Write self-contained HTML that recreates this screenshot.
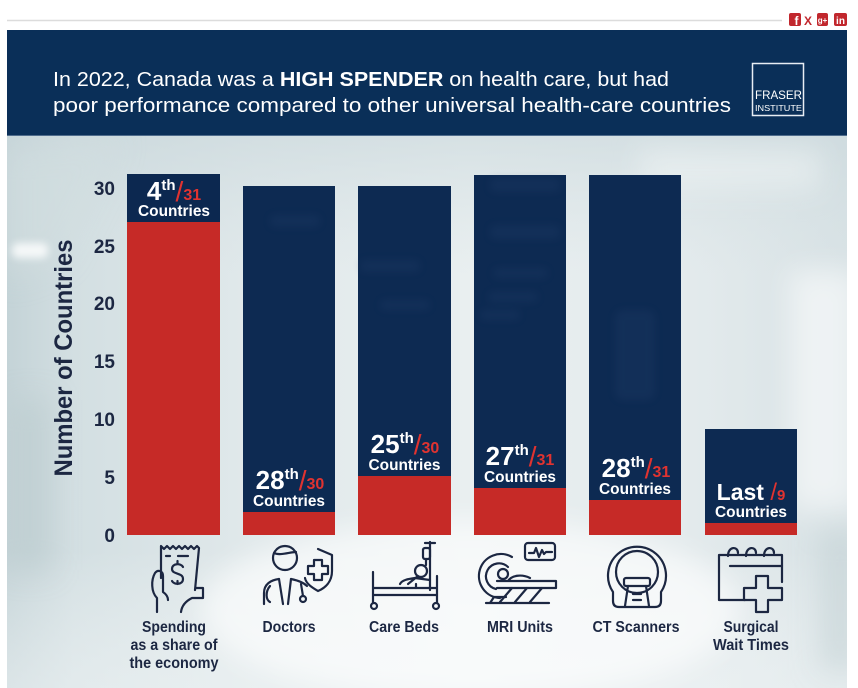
<!DOCTYPE html>
<html><head><meta charset="utf-8"><style>
html,body{margin:0;padding:0;background:#fff;}
svg{display:block;}
</style></head><body>
<svg width="858" height="688" viewBox="0 0 858 688" xmlns="http://www.w3.org/2000/svg" font-family="'Liberation Sans', Arial, sans-serif">
<defs>
  <linearGradient id="bgH" x1="0" y1="0" x2="1" y2="0">
    <stop offset="0" stop-color="#c4d3d7"/>
    <stop offset="0.08" stop-color="#d3dfe2"/>
    <stop offset="0.3" stop-color="#e1e9eb"/>
    <stop offset="0.55" stop-color="#e9eff0"/>
    <stop offset="0.8" stop-color="#e4ebed"/>
    <stop offset="1" stop-color="#d8e2e5"/>
  </linearGradient>
  <linearGradient id="bgV" x1="0" y1="0" x2="0" y2="1">
    <stop offset="0" stop-color="#c9d7db" stop-opacity="0.6"/>
    <stop offset="0.25" stop-color="#d6e1e4" stop-opacity="0"/>
    <stop offset="0.75" stop-color="#ffffff" stop-opacity="0"/>
    <stop offset="1" stop-color="#f2f6f7" stop-opacity="0.5"/>
  </linearGradient>
  <filter id="blur" x="-50%" y="-50%" width="200%" height="200%"><feGaussianBlur stdDeviation="14"/></filter>
  <filter id="blur2" x="-50%" y="-50%" width="200%" height="200%"><feGaussianBlur stdDeviation="4"/></filter>
  <clipPath id="bgclip"><rect x="7" y="136" width="840" height="552"/></clipPath>
</defs>

<!-- top line and social icons -->
<line x1="7" y1="20.5" x2="782" y2="20.5" stroke="#dcdcdc" stroke-width="1.5"/>
<rect x="789" y="13" width="12" height="13" rx="2" fill="#c1272d"/>
<text x="796.5" y="25" font-size="12" font-weight="bold" fill="#fff" text-anchor="middle">f</text>
<text x="808" y="25" font-size="12" font-weight="bold" fill="#c1272d" text-anchor="middle">X</text>
<rect x="817" y="13" width="11" height="13" rx="2" fill="#c1272d"/>
<text x="822.5" y="23" font-size="8" font-weight="bold" fill="#fff" text-anchor="middle">g+</text>
<rect x="834" y="13" width="13" height="13" rx="2" fill="#c1272d"/>
<text x="840.5" y="24" font-size="10" font-weight="bold" fill="#fff" text-anchor="middle">in</text>

<!-- header -->
<rect x="7" y="30" width="840" height="106" fill="#0a2f58"/>
<line x1="7" y1="135.5" x2="847" y2="135.5" stroke="#4f6c8c" stroke-width="1"/>
<text x="53" y="86" font-size="20" fill="#fff" textLength="616" lengthAdjust="spacingAndGlyphs">In 2022, Canada was a <tspan font-weight="bold">HIGH SPENDER</tspan> on health care, but had</text>
<text x="53" y="112" font-size="20" fill="#fff" textLength="678" lengthAdjust="spacingAndGlyphs">poor performance compared to other universal health-care countries</text>
<rect x="752.5" y="63.5" width="51" height="52" fill="none" stroke="#e8eef4" stroke-width="1.5"/>
<text x="755" y="99" font-size="12" fill="#fff" textLength="47" lengthAdjust="spacingAndGlyphs">FRASER</text>
<text x="755" y="111" font-size="8.5" fill="#fff" textLength="47" lengthAdjust="spacingAndGlyphs">INSTITUTE</text>

<!-- background -->
<rect x="7" y="136" width="840" height="552" fill="url(#bgH)"/>
<g clip-path="url(#bgclip)">
  <rect x="7" y="136" width="840" height="552" fill="url(#bgV)"/>
  <g filter="url(#blur)">
    <ellipse cx="470" cy="610" rx="270" ry="90" fill="#ffffff" opacity="0.6"/>
    <rect x="790" y="270" width="70" height="240" fill="#ffffff" opacity="0.55"/>
    <rect x="10" y="400" width="40" height="170" fill="#b9cace" opacity="0.55"/>
    <polygon points="7,150 120,140 60,260 7,280" fill="#d0dde0" opacity="0.6"/>
    <rect x="640" y="150" width="180" height="40" fill="#f4f7f8" opacity="0.5"/>
    <rect x="820" y="530" width="40" height="140" fill="#c4d2d6" opacity="0.6"/>
  </g>
  <rect x="12" y="243" width="36" height="15" rx="6" fill="#ffffff" opacity="0.8" filter="url(#blur2)"/>
</g>

<!-- y-axis title -->
<text transform="translate(72,358) rotate(-90)" text-anchor="middle" font-size="25" font-weight="bold" fill="#1c2742" textLength="237" lengthAdjust="spacingAndGlyphs">Number of Countries</text>

<!-- y ticks -->
<g font-size="19" font-weight="bold" fill="#1c2742" text-anchor="end">
  <text x="115" y="195">30</text>
  <text x="115" y="253">25</text>
  <text x="115" y="310">20</text>
  <text x="115" y="368">15</text>
  <text x="115" y="426">10</text>
  <text x="115" y="484">5</text>
  <text x="115" y="542">0</text>
</g>

<!-- bars -->
<g>
  <rect x="127" y="174" width="93" height="48" fill="#0c2850"/>
  <rect x="127" y="222" width="93" height="313" fill="#c62a27"/>

  <rect x="243" y="186" width="92" height="326" fill="#0d2a52"/>
  <rect x="243" y="512" width="92" height="23" fill="#c62a27"/>

  <rect x="358" y="186" width="93" height="290" fill="#0d2a52"/>
  <rect x="358" y="476" width="93" height="59" fill="#c62a27"/>

  <rect x="474" y="175" width="92" height="313" fill="#0d2a52"/>
  <rect x="474" y="488" width="92" height="47" fill="#c62a27"/>

  <rect x="589" y="175" width="92" height="325" fill="#0d2a52"/>
  <rect x="589" y="500" width="92" height="35" fill="#c62a27"/>

  <rect x="705" y="429" width="92" height="94" fill="#0d2a52"/>
  <rect x="705" y="523" width="92" height="12" fill="#c62a27"/>
</g>
<!-- faint reflections inside bars -->
<g fill="#2b4773" opacity="0.2" filter="url(#blur2)">
  <rect x="490" y="178" width="70" height="14" rx="5"/>
  <rect x="490" y="225" width="70" height="14" rx="5"/>
  <rect x="493" y="268" width="55" height="10" rx="5"/>
  <rect x="488" y="292" width="50" height="10" rx="5"/>
  <rect x="480" y="310" width="40" height="10" rx="5"/>
  <rect x="270" y="215" width="50" height="12" rx="5"/>
  <rect x="360" y="260" width="60" height="12" rx="5"/>
  <rect x="380" y="300" width="50" height="10" rx="5"/>
  <rect x="615" y="310" width="40" height="90" rx="8"/>
</g>

<!-- bar labels -->
<g font-weight="bold" text-anchor="middle">
  <text x="174" y="200"><tspan font-size="26" fill="#fff">4</tspan><tspan font-size="15" fill="#fff" dy="-10">th</tspan><tspan font-size="28" font-weight="normal" fill="#e03330" dy="11">/</tspan><tspan font-size="16" fill="#e03330" dy="-1">31</tspan></text>
  <text x="174" y="216" font-size="16" fill="#fff" textLength="72" lengthAdjust="spacingAndGlyphs">Countries</text>

  <text x="290" y="489"><tspan font-size="26" fill="#fff">28</tspan><tspan font-size="15" fill="#fff" dy="-10">th</tspan><tspan font-size="28" font-weight="normal" fill="#e03330" dy="11">/</tspan><tspan font-size="16" fill="#e03330" dy="-1">30</tspan></text>
  <text x="289" y="506" font-size="16" fill="#fff" textLength="72" lengthAdjust="spacingAndGlyphs">Countries</text>

  <text x="405" y="453"><tspan font-size="26" fill="#fff">25</tspan><tspan font-size="15" fill="#fff" dy="-10">th</tspan><tspan font-size="28" font-weight="normal" fill="#e03330" dy="11">/</tspan><tspan font-size="16" fill="#e03330" dy="-1">30</tspan></text>
  <text x="404.5" y="470" font-size="16" fill="#fff" textLength="72" lengthAdjust="spacingAndGlyphs">Countries</text>

  <text x="520" y="465"><tspan font-size="26" fill="#fff">27</tspan><tspan font-size="15" fill="#fff" dy="-10">th</tspan><tspan font-size="28" font-weight="normal" fill="#e03330" dy="11">/</tspan><tspan font-size="16" fill="#e03330" dy="-1">31</tspan></text>
  <text x="520" y="482" font-size="16" fill="#fff" textLength="72" lengthAdjust="spacingAndGlyphs">Countries</text>

  <text x="636" y="477"><tspan font-size="26" fill="#fff">28</tspan><tspan font-size="15" fill="#fff" dy="-10">th</tspan><tspan font-size="28" font-weight="normal" fill="#e03330" dy="11">/</tspan><tspan font-size="16" fill="#e03330" dy="-1">31</tspan></text>
  <text x="635" y="494" font-size="16" fill="#fff" textLength="72" lengthAdjust="spacingAndGlyphs">Countries</text>

  <text x="751" y="500"><tspan font-size="23" fill="#fff">Last </tspan><tspan font-size="24" font-weight="normal" fill="#e03330">/</tspan><tspan font-size="15" fill="#e03330">9</tspan></text>
  <text x="751" y="517" font-size="16" fill="#fff" textLength="72" lengthAdjust="spacingAndGlyphs">Countries</text>
</g>

<!-- icons -->
<g fill="none" stroke="#1c2742" stroke-width="2.2" stroke-linecap="round" stroke-linejoin="round">
  <!-- spending -->
  <path d="M161,578 L161,546 l3,3 l3,-3 l3,3 l3,-3 l3,3 l3,-3 l3,3 l3,-3 l3,3 l3,-3 l3,3 l3,-3 l2,2 L195,590"/>
  <path d="M166,556 h4 M178,556 h10"/>
  <path d="M183,567 c-2,-4 -11,-4 -11,2 c0,6 11,3 11,10 c0,6 -9,6 -11,2 M177.5,561 v3 M177.5,581 v3"/>
  <path d="M157,612 L157,598 C151,592 151,580 155,573 C158,569 163,571 163,576 L163,592 C166,594 168,597 168,600"/>
  <path d="M181,612 C182,604 188,600 192,598 L203,598 L203,588 L196,588"/>
  <!-- doctor -->
  <circle cx="285" cy="558" r="12"/>
  <path d="M274,553 C280,556 290,552 296,552"/>
  <path d="M264,604 L264,593 C264,584 271,580 279,579 M291,579 C296,580 303,582 307,586"/>
  <path d="M279,579 L283,604 M291,579 L288,604"/>
  <path d="M270,586 C265,592 266,600 270,602 M301,584 L303,596"/>
  <circle cx="303" cy="599" r="3"/>
  <path d="M318,549 L332,555 L332,571 C332,582 325,588 318,591 C313,588 306,584 305,578"/>
  <path d="M314,560 h8 v6 h6 v8 h-6 v6 h-8 v-6 h-6 v-8 h6 z"/>
  <!-- care bed -->
  <path d="M430,542 L430,590 M425,543 h10"/>
  <rect x="423" y="548" width="7" height="11" rx="2"/>
  <path d="M426,559 v6"/>
  <path d="M373,572 L373,603 M437,576 L437,603 M373,588 H437 M373,595 H437"/>
  <circle cx="374" cy="606" r="3"/>
  <circle cx="436" cy="606" r="3"/>
  <circle cx="421" cy="571" r="6"/>
  <path d="M400,584 C402,580 408,579 415,578 L430,580 M408,584 L418,576 M416,584 L416,588"/>
  <!-- MRI -->
  <rect x="525" y="543" width="30" height="17" rx="3"/>
  <path d="M529,553 h5 l2,-5 l3,9 l3,-7 l2,4 l2,-2 h6"/>
  <path d="M512,557 A22,22 0 1 0 500,598"/>
  <path d="M508,567 A13,13 0 1 0 496,589"/>
  <circle cx="503" cy="574" r="5"/>
  <path d="M497,581 H556 V588 H497 M508,581 C512,575 522,574 530,578"/>
  <path d="M512,588 L500,602 M527,588 L515,602 M542,588 L530,602"/>
  <path d="M486,603 H549 M490,603 L494,597 H506"/>
  <!-- CT -->
  <path d="M613,592 A29,29 0 1 1 661,592 L661,601 Q661,607 655,607 L619,607 Q613,607 613,601 Z"/>
  <circle cx="637" cy="572" r="21"/>
  <rect x="624" y="578" width="26" height="8" rx="2"/>
  <path d="M628,586 L625,606 M646,586 L649,606 M633,594 h8 M633,600 h8"/>
  <!-- surgical wait -->
  <path d="M745,600 L719,600 L719,555 L782,555 L782,582"/>
  <path d="M730,566 H782"/>
  <path d="M728,556 C728,546 738,546 738,553 M746,556 C746,546 756,546 756,553 M764,556 C764,546 774,546 774,553"/>
  <path d="M756,576 h12 v12 h14 v12 h-14 v12 h-12 v-12 h-12 v-12 h12 z"/>
</g>

<!-- category labels -->
<g font-size="15.5" font-weight="bold" fill="#1c2742" text-anchor="middle">
  <text x="174" y="632" textLength="64" lengthAdjust="spacingAndGlyphs">Spending</text>
  <text x="174" y="650" textLength="87" lengthAdjust="spacingAndGlyphs">as a share of</text>
  <text x="174" y="668" textLength="89" lengthAdjust="spacingAndGlyphs">the economy</text>
  <text x="289" y="632" textLength="53" lengthAdjust="spacingAndGlyphs">Doctors</text>
  <text x="404" y="632" textLength="70" lengthAdjust="spacingAndGlyphs">Care Beds</text>
  <text x="520" y="632" textLength="66" lengthAdjust="spacingAndGlyphs">MRI Units</text>
  <text x="636" y="632" textLength="87" lengthAdjust="spacingAndGlyphs">CT Scanners</text>
  <text x="751" y="632" textLength="55" lengthAdjust="spacingAndGlyphs">Surgical</text>
  <text x="751" y="650" textLength="76" lengthAdjust="spacingAndGlyphs">Wait Times</text>
</g>
</svg>
</body></html>
